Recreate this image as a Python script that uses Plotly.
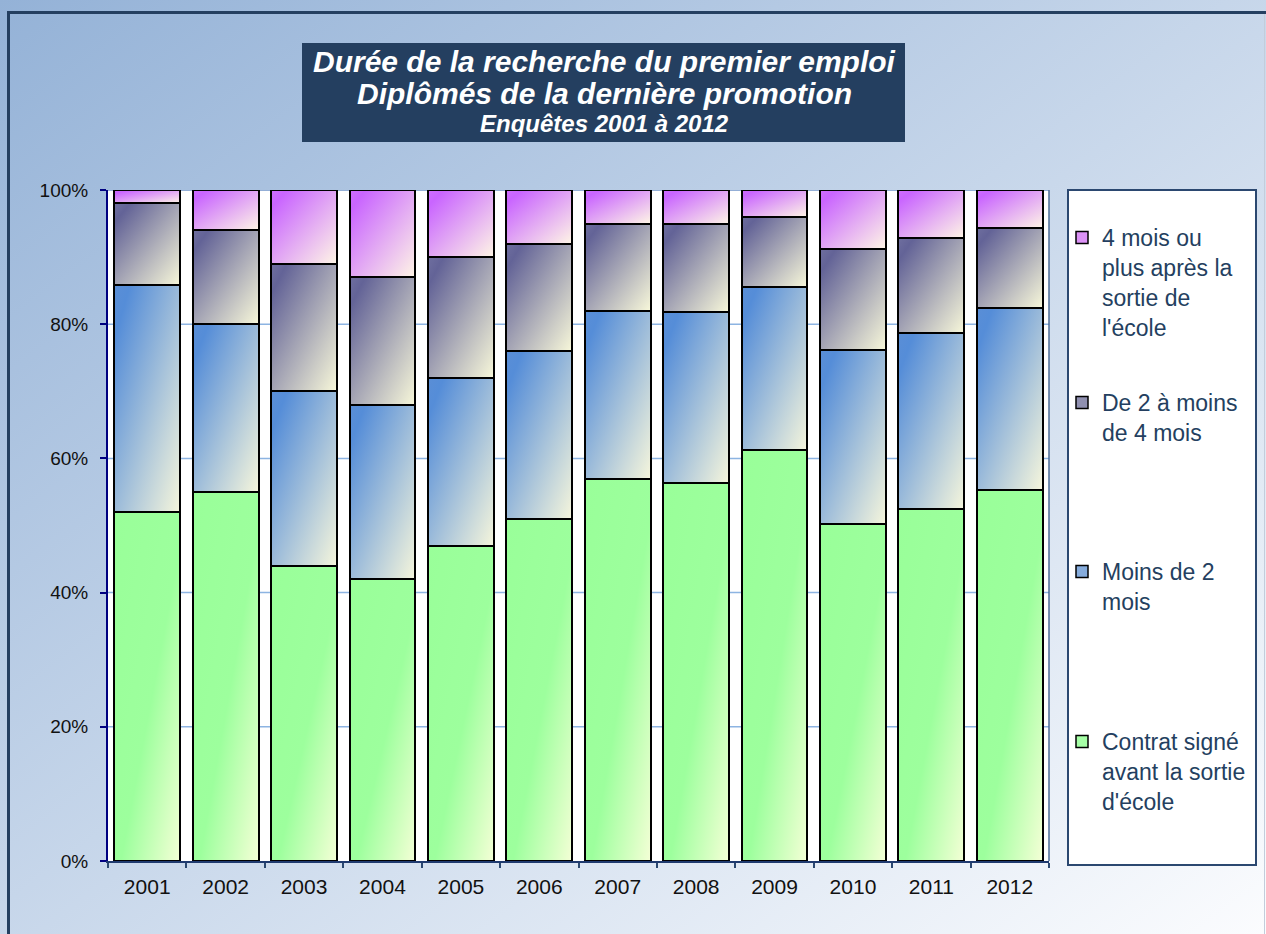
import base64
import plotly.graph_objects as go

# ---------------- data ----------------
years = ["2001", "2002", "2003", "2004", "2005", "2006",
         "2007", "2008", "2009", "2010", "2011", "2012"]
contrat = [52, 55, 44, 42, 46.9, 51, 57, 56.4, 61.2, 50.2, 52.5, 55.3]
moins2 = [33.8, 25, 26, 26, 25.1, 25, 25, 25.4, 24.4, 26, 26.2, 27.1]
de2a4 = [12.2, 14, 19, 19, 18, 16, 13, 13.1, 10.4, 15, 14.2, 11.9]
plus4 = [2, 6, 11, 13, 10, 8, 5, 5.1, 4, 8.8, 7.1, 5.7]

series_names = [
    "Contrat signé<br>avant la sortie<br>d'école",
    "Moins de 2<br>mois",
    "De 2 à moins<br>de 4 mois",
    "4 mois ou<br>plus après la<br>sortie de<br>l'école",
]
series_values = [contrat, moins2, de2a4, plus4]
y_ticks = [0, 20, 40, 60, 80, 100]
y_ticktext = ["0%", "20%", "40%", "60%", "80%", "100%"]

# ---------------- styles ----------------
FONT = "Liberation Sans"
NAVY = "#243F60"
BAR_W = 0.84
grad_stops = [
    [(0, "#99ff99"), (0.55, "#9dff9d"), (1, "#f4ffd6")],
    [(0, "#5a8ed6"), (0.12, "#558dd8"), (1, "#f6f6dc")],
    [(0, "#6f6f9f"), (0.12, "#636397"), (1, "#f8f8da")],
    [(0, "#cf6eff"), (0.12, "#c965ff"), (1, "#fff6e6")],
]
legend_colors = ["#a6ffa6", "#86acdc", "#9090b0", "#dc92f6"]
legend_first_line_y = [741, 571, 402, 237]

L, R, T, B = 108, 217, 190, 73
W, H = 1266, 934
PW, PH = W - L - R, H - T - B


def px2x(px):
    return (px - L) / PW


def px2y(py):
    return (H - B - py) / PH


def grad_uri(stops, w=100, h=100):
    st = "".join(f"<stop offset='{o}' stop-color='{c}'/>" for o, c in stops)
    svg = ("<svg xmlns='http://www.w3.org/2000/svg' width='%d' height='%d' "
           "viewBox='0 0 %d %d' preserveAspectRatio='none'>" % (w, h, w, h) +
           "<defs><linearGradient id='g' x1='0' y1='0' x2='1' y2='1'>" + st +
           "</linearGradient></defs>"
           "<rect x='0' y='0' width='%d' height='%d' fill='url(#g)'/></svg>" % (w, h))
    return "data:image/svg+xml;base64," + base64.b64encode(svg.encode()).decode()


fig = go.Figure()
images = []

# background gradient of the whole chart
images.append(dict(source=grad_uri([(0, "#94b2d7"), (1, "#fbfcfe")], W, H),
                   xref="paper", yref="paper", x=px2x(0), y=px2y(0),
                   sizex=W / PW, sizey=H / PH, xanchor="left", yanchor="top",
                   sizing="stretch", layer="below"))

for k, (name, vals) in enumerate(zip(series_names, series_values)):
    lg = "legend" if k == 0 else f"legend{k + 1}"
    fig.add_trace(go.Bar(
        x=years, y=vals, width=BAR_W, name=name, showlegend=False,
        marker=dict(color="rgba(0,0,0,0)", line=dict(color="#000000", width=2)),
        hovertemplate="%{x}: %{y:.1f}%<extra></extra>",
    ))
    # legend entry
    fig.add_trace(go.Bar(
        x=[None], y=[None], name=name, legend=lg, showlegend=True,
        marker=dict(color=legend_colors[k], line=dict(color="#000000", width=1.5)),
    ))
    uri = grad_uri(grad_stops[k])
    for j, v in enumerate(vals):
        base = sum(series_values[m][j] for m in range(k))
        images.append(dict(source=uri, xref="x", yref="y",
                           x=j - BAR_W / 2, y=base + v, sizex=BAR_W, sizey=v,
                           xanchor="left", yanchor="top", sizing="stretch",
                           layer="below"))

shapes = []
# plot area white background
shapes.append(dict(type="rect", xref="paper", yref="paper", x0=0, x1=1, y0=0, y1=1,
                   fillcolor="white", line=dict(width=0), layer="below"))
# gridlines
for v in y_ticks[1:]:
    shapes.append(dict(type="line", xref="paper", yref="y", x0=0, x1=1, y0=v, y1=v,
                       line=dict(color="#8db4e2" if v < 100 else "#6f93c8", width=1.5),
                       layer="below"))
# plot area right border
shapes.append(dict(type="line", xref="paper", yref="paper", x0=1, x1=1, y0=0, y1=1,
                   line=dict(color="#4a6a95", width=1.5), layer="below"))
# legend box
shapes.append(dict(type="rect", xref="paper", yref="paper",
                   x0=px2x(1068), x1=px2x(1256), y0=px2y(865), y1=px2y(190),
                   fillcolor="white", line=dict(color="#2B4870", width=2), layer="below"))
# title box
shapes.append(dict(type="rect", xref="paper", yref="paper",
                   x0=px2x(302), x1=px2x(905), y0=px2y(142), y1=px2y(43),
                   fillcolor=NAVY, line=dict(width=0), layer="above"))
# outer border (left + top dark, right light)
shapes.append(dict(type="line", xref="paper", yref="paper",
                   x0=px2x(8.5), x1=px2x(8.5), y0=px2y(945), y1=px2y(11),
                   line=dict(color=NAVY, width=3), layer="above"))
shapes.append(dict(type="line", xref="paper", yref="paper",
                   x0=px2x(7), x1=px2x(1270), y0=px2y(12.5), y1=px2y(12.5),
                   line=dict(color=NAVY, width=3), layer="above"))
shapes.append(dict(type="line", xref="paper", yref="paper",
                   x0=px2x(1264.5), x1=px2x(1264.5), y0=px2y(945), y1=px2y(14),
                   line=dict(color="#c3cddb", width=1), layer="above"))

annotations = [
    dict(text="<b><i>Durée de la recherche du premier emploi</i></b>",
         xref="paper", yref="paper", x=px2x(604), y=px2y(62), xanchor="center",
         yanchor="middle", showarrow=False, font=dict(family=FONT, size=30, color="white")),
    dict(text="<b><i>Diplômés de la dernière promotion</i></b>",
         xref="paper", yref="paper", x=px2x(604), y=px2y(93), xanchor="center",
         yanchor="middle", showarrow=False, font=dict(family=FONT, size=30, color="white")),
    dict(text="<b><i>Enquêtes 2001 à 2012</i></b>",
         xref="paper", yref="paper", x=px2x(604), y=px2y(124), xanchor="center",
         yanchor="middle", showarrow=False, font=dict(family=FONT, size=24, color="white")),
]

layout_legends = {}
for k in range(4):
    lg = "legend" if k == 0 else f"legend{k + 1}"
    layout_legends[lg] = dict(
        x=px2x(1062), xanchor="left", y=px2y(legend_first_line_y[k] - 21), yanchor="top",
        bgcolor="rgba(0,0,0,0)", borderwidth=0, valign="top",
        font=dict(family=FONT, size=23, color=NAVY),
    )

fig.update_layout(
    width=W, height=H, autosize=False,
    margin=dict(l=L, r=R, t=T, b=B, pad=0),
    paper_bgcolor="white", plot_bgcolor="rgba(0,0,0,0)",
    barmode="stack", bargap=0.16,
    images=images, shapes=shapes, annotations=annotations,
    font=dict(family=FONT, size=16, color="#111111"),
    xaxis=dict(type="category", range=[-0.5, 11.5], tickson="boundaries",
               ticks="outside", ticklen=5, tickcolor="#2B4870", tickwidth=1.5,
               ticklabelstandoff=6,
               showline=True, linecolor="#1F3A6F", linewidth=1.5, showgrid=False,
               tickfont=dict(family=FONT, size=21, color="#111111")),
    yaxis=dict(range=[0, 100], tickmode="array", tickvals=y_ticks, ticktext=y_ticktext,
               ticks="outside", ticklen=6, tickcolor="#000080", tickwidth=1.5,
               ticklabelstandoff=8,
               showline=True, linecolor="#000080", linewidth=2, showgrid=False,
               zeroline=False,
               tickfont=dict(family=FONT, size=19, color="#111111")),
    **layout_legends,
)

fig.write_html("out.html", config={"displayModeBar": False},
               post_script="document.body.style.margin='0';document.body.style.overflow='hidden';")
